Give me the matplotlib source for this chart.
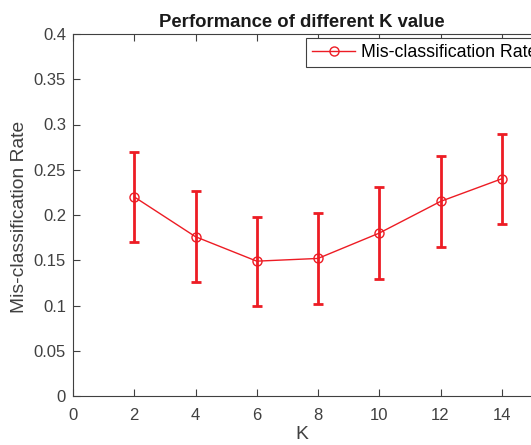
import numpy as np
import matplotlib
matplotlib.use("Agg")
import matplotlib.pyplot as plt

plt.rcParams['font.family'] = ['Liberation Sans', 'DejaVu Sans']

# data
k_values = [2, 4, 6, 8, 10, 12, 14]
mis_rate = [0.220, 0.176, 0.149, 0.152, 0.180, 0.215, 0.240]
rate_err = [0.050, 0.050, 0.049, 0.050, 0.051, 0.050, 0.050]
x_ticks = [0, 2, 4, 6, 8, 10, 12, 14, 16]
x_labels = ['0', '2', '4', '6', '8', '10', '12', '14', '']
y_ticks = [0, 0.05, 0.1, 0.15, 0.2, 0.25, 0.3, 0.35, 0.4]
y_labels = ['0', '0.05', '0.1', '0.15', '0.2', '0.25', '0.3', '0.35', '0.4']

red = '#ed1c24'
gray = '#404040'

fig = plt.figure(figsize=(5.31, 4.45), dpi=100)
# axes run past the right edge, as in the cropped original
ax = fig.add_axes([73 / 531, 49 / 445, 490 / 531, 362 / 445])

# error bars first, then the line with markers (legend shows only the line)
ax.errorbar(k_values, mis_rate, yerr=rate_err, fmt='none',
            ecolor=red, elinewidth=2.0, capsize=3.5, capthick=2.0)
ax.plot(k_values, mis_rate, color=red, linewidth=1.0,
        marker='o', markersize=6.5, markerfacecolor='none',
        markeredgecolor=red, markeredgewidth=1.0,
        label='Mis-classification Rate')

ax.set_xlim(0, 16)
ax.set_ylim(0, 0.4)
ax.set_xticks(x_ticks)
ax.set_yticks(y_ticks)
ax.set_xticklabels(x_labels)
ax.set_yticklabels(y_labels)
ax.tick_params(direction='in', top=True, right=True, length=5, width=0.8,
               colors=gray, labelsize=12)
ax.tick_params(axis='x', pad=8.5)
ax.tick_params(axis='y', pad=5)
for s in ax.spines.values():
    s.set_color(gray)
    s.set_linewidth(0.8)

ax.set_xlabel('K', fontsize=13.9, color=gray)
ax.xaxis.set_label_coords(0.467, -0.084)
ax.set_ylabel('Mis-classification Rate', fontsize=13.9, color=gray)
ax.yaxis.set_label_coords(-0.092, 0.495)
ax.set_title('Performance of different K value', fontsize=13.3, fontweight='bold',
             color='#1a1a1a', pad=5, x=0.467)

leg = ax.legend(loc='upper left', bbox_to_anchor=(0.4755, 0.989), fontsize=12.8,
                frameon=True, fancybox=False, edgecolor=gray, framealpha=1,
                borderpad=0.33, handlelength=2.45, handletextpad=0.3,
                borderaxespad=0)
leg.get_frame().set_linewidth(0.8)

fig.savefig('out.png', dpi=100)
